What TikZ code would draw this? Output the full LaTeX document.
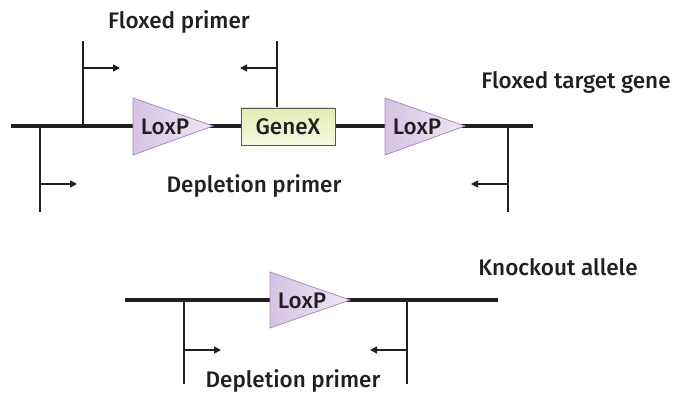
\documentclass[tikz,border=0pt]{standalone}
\usepackage{fontspec}
\setmainfont{Fira Sans Medium}
\usetikzlibrary{arrows.meta}
\definecolor{txt}{HTML}{231F20}
\definecolor{loxfillA}{HTML}{D6C3E4}
\definecolor{loxfillB}{HTML}{EFE7F5}
\definecolor{loxedge}{HTML}{A98BC4}
\definecolor{genefillA}{HTML}{E2ECB2}
\definecolor{genefillB}{HTML}{F6F9E3}
\definecolor{geneedge}{HTML}{5A5A50}
\tikzset{
  dna/.style={line width=4pt, draw=txt},
  primerline/.style={line width=2.4pt, draw=txt},
  primerarrow/.style={line width=1.6pt, draw=txt, -{Triangle[length=7pt,width=7pt]}},
  lbl/.style={text=txt, font=\fontsize{22.5}{24}\selectfont, inner sep=0pt},
  loxp/.style={draw=loxedge, line width=0.8pt, left color=loxfillA, right color=loxfillB},
  genebox/.style={draw=geneedge, line width=0.8pt, top color=genefillA, bottom color=genefillB, minimum width=94pt, minimum height=37pt, inner sep=0pt, text=txt, font=\fontsize{22.5}{24}\selectfont},
}
\begin{document}
\begin{tikzpicture}[x=1pt,y=-1pt]
\useasboundingbox (0,0) rectangle (673,393);
% ---------- floxed target gene ----------
\coordinate (aL) at (11,126);
\coordinate (aR) at (533,126);
\draw[dna] (aL) -- (aR);
% floxed primers
\coordinate (fp1b) at (83,126); \coordinate (fp1t) at (83,41);
\coordinate (fp1a) at (83,68); \coordinate (fp1e) at (120,68);
\draw[primerline] (fp1b) -- (fp1t);
\draw[primerarrow] (fp1a) -- (fp1e);
\coordinate (fp2b) at (277,108); \coordinate (fp2t) at (277,41);
\coordinate (fp2a) at (277,68); \coordinate (fp2e) at (240,68);
\draw[primerline] (fp2b) -- (fp2t);
\draw[primerarrow] (fp2a) -- (fp2e);
% depletion primers
\coordinate (dp1b) at (40,126); \coordinate (dp1t) at (40,212);
\coordinate (dp1a) at (40,184); \coordinate (dp1e) at (77,184);
\draw[primerline] (dp1b) -- (dp1t);
\draw[primerarrow] (dp1a) -- (dp1e);
\coordinate (dp2b) at (508,126); \coordinate (dp2t) at (508,212);
\coordinate (dp2a) at (508,184); \coordinate (dp2e) at (471,184);
\draw[primerline] (dp2b) -- (dp2t);
\draw[primerarrow] (dp2a) -- (dp2e);
% LoxP 1
\draw[loxp] (133,98) -- (213,126) -- (133,155) -- cycle;
\node[lbl] (lox1) at (165,127) {LoxP};
% GeneX
\node[genebox] (gene) at (288,126.5) {GeneX};
% LoxP 2
\draw[loxp] (385,98) -- (465,126) -- (385,155) -- cycle;
\node[lbl] (lox2) at (417,127) {LoxP};
% labels
\node[lbl] (tfp) at (179,22) {Floxed primer};
\node[lbl] (tdp) at (254,186) {Depletion primer};
\node[lbl] (tftg) at (576,82) {Floxed target gene};
% ---------- knockout allele ----------
\coordinate (bL) at (125,300);
\coordinate (bR) at (498,300);
\draw[dna] (bL) -- (bR);
\coordinate (kp1b) at (184,300); \coordinate (kp1t) at (184,384);
\coordinate (kp1a) at (184,350); \coordinate (kp1e) at (221,350);
\draw[primerline] (kp1b) -- (kp1t);
\draw[primerarrow] (kp1a) -- (kp1e);
\coordinate (kp2b) at (407,300); \coordinate (kp2t) at (407,384);
\coordinate (kp2a) at (407,350); \coordinate (kp2e) at (370,350);
\draw[primerline] (kp2b) -- (kp2t);
\draw[primerarrow] (kp2a) -- (kp2e);
\draw[loxp] (270,272) -- (350,300) -- (270,328) -- cycle;
\node[lbl] (lox3) at (302,301) {LoxP};
\node[lbl] (tdp2) at (293,381) {Depletion primer};
\node[lbl] (tko) at (558,267) {Knockout allele};
\end{tikzpicture}
\end{document}
